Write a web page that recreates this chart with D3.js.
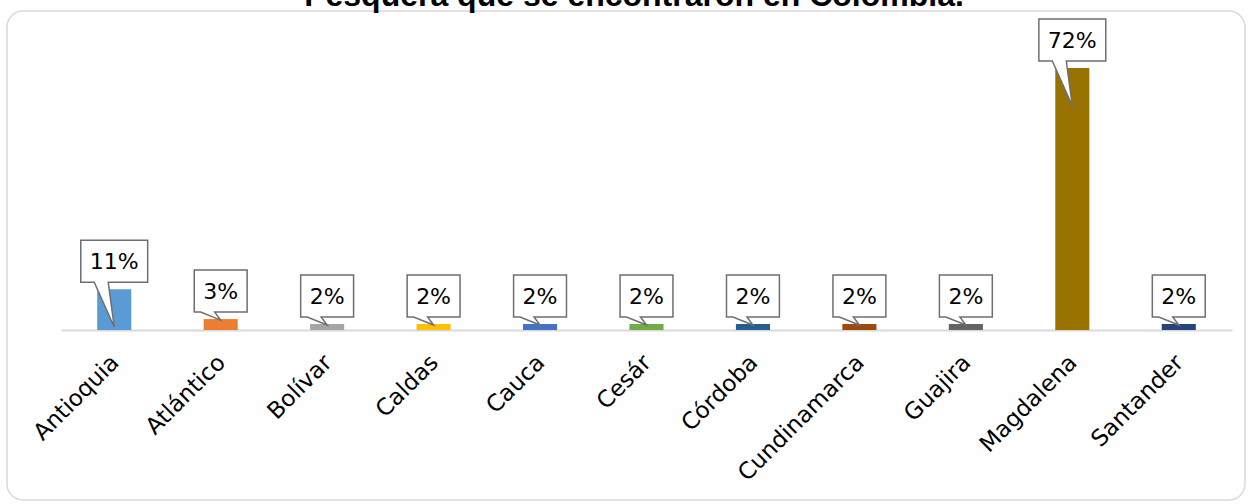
<!DOCTYPE html>
<html>
<head>
<meta charset="utf-8">
<script src="https://cdn.jsdelivr.net/npm/d3@7"></script>
<style>
	body { margin: 0; background: #fff; }
	svg { display: block; }
</style>
</head>
<body>
<script>
// departamentos y porcentaje
const categories = ["Antioquia", "Atlántico", "Bolívar", "Caldas", "Cauca", "Cesár", "Córdoba", "Cundinamarca", "Guajira", "Magdalena", "Santander"];
const values = [0.112, 0.03, 0.0165, 0.0165, 0.0165, 0.0165, 0.0165, 0.0165, 0.0165, 0.72, 0.0165];
const colors = ["#5b9bd5", "#ed7d31", "#a5a5a5", "#ffc000", "#4472c4", "#70ad47", "#255e91", "#9e480e", "#636363", "#997300", "#264478"];
const title = "Pesquera que se encontraron en Colombia.";

const width = 1249,
	height = 504,
	base = 330;

const svg = d3.select("body").append("svg")
	.attr("width", width)
	.attr("height", height);

// marco redondeado
svg.append("rect")
	.attr("x", 7).attr("y", 11)
	.attr("width", 1238).attr("height", 489)
	.attr("rx", 16)
	.attr("fill", "#fff")
	.attr("stroke", "#d9d9d9")
	.attr("stroke-width", 1.5);

// titulo, cortado arriba (igual que el original)
svg.append("text")
	.attr("x", 634).attr("y", 6)
	.attr("text-anchor", "middle")
	.style("font-family", "Liberation Sans, Arial, sans-serif")
	.style("font-weight", "bold")
	.style("font-size", "32px")
	.text(title);

let x = d3.scaleBand().domain(categories).range([61, 1232]).paddingInner(0.68).paddingOuter(0.34);
let y = d3.scaleLinear().domain([0, 0.72]).range([base, 68]);

let axis = svg.append("g")
	.attr("transform", `translate(0,${base})`)
	.call(d3.axisBottom(x).tickSize(0).tickSizeOuter(0));
axis.select(".domain").attr("stroke", "#d9d9d9").attr("stroke-width", 2);
axis.selectAll("text")
	.style("font-family", "DejaVu Sans, sans-serif")
	.style("font-size", "23px")
	.attr("fill", "#000")
	.attr("text-anchor", "end")
	.attr("dy", 0)
	.attr("y", 0)
	.attr("transform", "translate(6,34) rotate(-45)");

svg.selectAll(".bar")
	.data(values)
	.join("rect")
	.attr("class", "bar")
	.attr("x", (d, i) => x(categories[i]))
	.attr("y", d => y(d))
	.attr("width", x.bandwidth())
	.attr("height", d => base - y(d))
	.attr("fill", (d, i) => colors[i]);

// etiquetas tipo globo
const fmt = d3.format(".0%");
let labels = svg.selectAll(".lbl")
	.data(values)
	.join("g")
	.attr("class", "lbl");

labels.each(function(d, i){
	const g = d3.select(this);
	const cx = x(categories[i]) + x.bandwidth()/2;
	const top = y(d);
	const h = base - top;
	const tipY = h > 20 ? top + Math.min(38, h - 3) : top + 1;
	const t = g.append("text")
		.attr("x", cx).attr("y", top - 22)
		.attr("text-anchor", "middle")
		.style("font-family", "DejaVu Sans, sans-serif")
		.style("font-size", "22px")
		.text(fmt(d));
	const w = t.node().getComputedTextLength() + 18;
	const bot = top - 7, tp = bot - 42;
	const l = cx - w/2, r = cx + w/2;
	g.insert("path", "text")
		.attr("d", `M${l},${tp}H${r}V${bot}H${cx-6}L${cx},${tipY}L${cx-20},${bot}H${l}Z`)
		.attr("fill", "#fff")
		.attr("stroke", "#6f6f6f")
		.attr("stroke-width", 1.5);
	t.attr("y", bot - 13);
});
</script>
</body>
</html>
